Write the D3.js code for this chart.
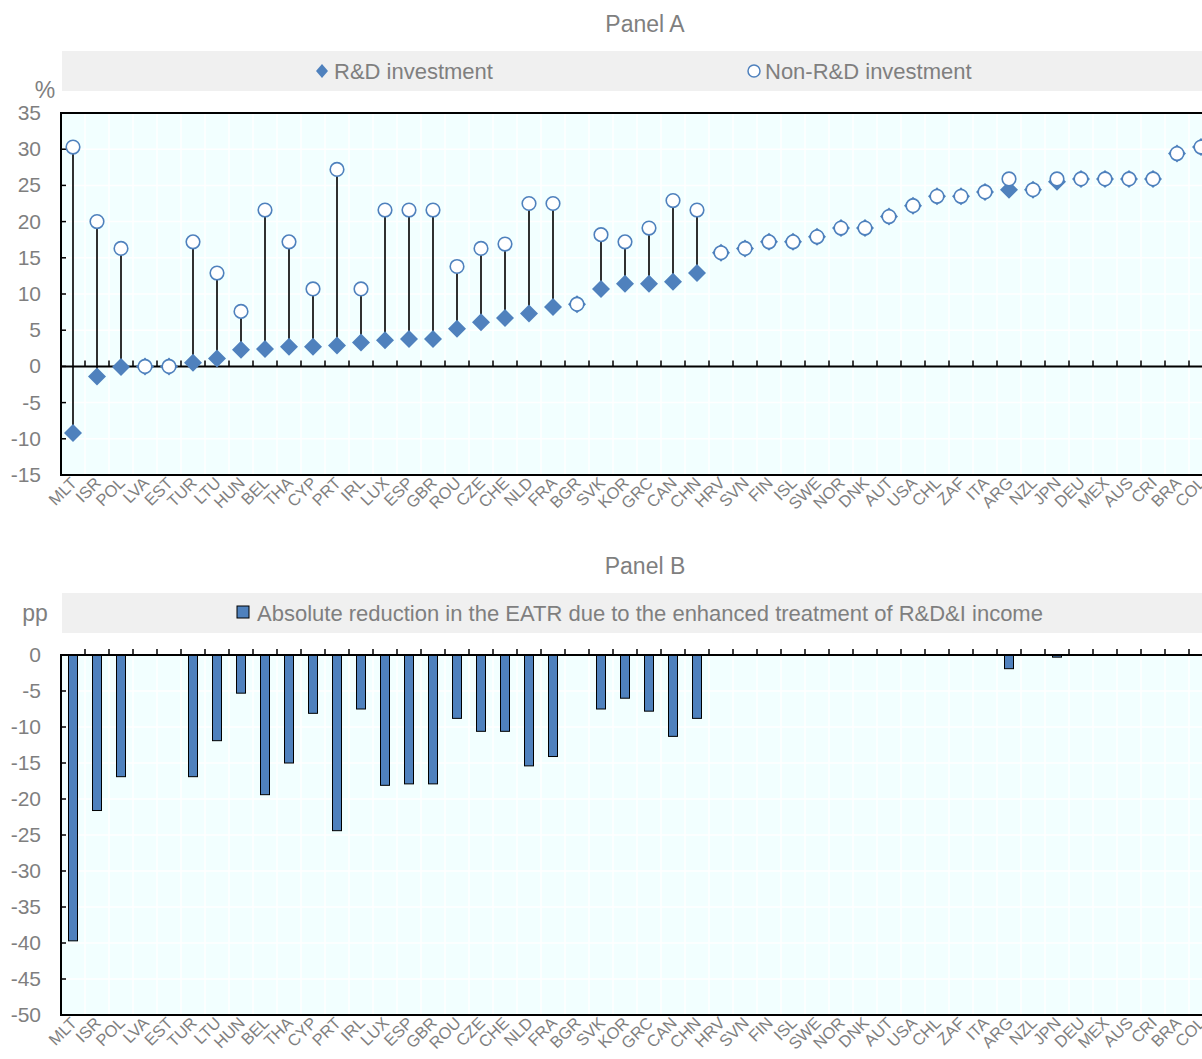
<!DOCTYPE html>
<html>
<head>
<meta charset="utf-8">
<script src="https://cdn.jsdelivr.net/npm/d3@7"></script>
<style>
  body { margin: 0; background: #fff; }
  text { font-family: "Liberation Sans Narrow", "Arial Narrow", "Liberation Sans", sans-serif; fill: #7f7f7f; }
  .xlab { font-family: "Liberation Sans", Arial, sans-serif; }
</style>
</head>
<body>
<script>
// Data
const countries = ["MLT","ISR","POL","LVA","EST","TUR","LTU","HUN","BEL","THA","CYP","PRT","IRL","LUX","ESP","GBR","ROU","CZE","CHE","NLD","FRA","BGR","SVK","KOR","GRC","CAN","CHN","HRV","SVN","FIN","ISL","SWE","NOR","DNK","AUT","USA","CHL","ZAF","ITA","ARG","NZL","JPN","DEU","MEX","AUS","CRI","BRA","COL"];
const rdInvestment = [-9.2,-1.4,-0.1,0,0,0.5,1.1,2.3,2.4,2.7,2.7,2.9,3.3,3.6,3.8,3.8,5.2,6.1,6.7,7.3,8.2,8.6,10.7,11.4,11.4,11.7,12.9,15.7,16.3,17.2,17.2,17.9,19.1,19.1,20.7,22.2,23.5,23.5,24.1,24.4,24.4,25.5,25.9,25.9,25.9,25.9,29.4,30.3];
const nonRdInvestment = [30.3,20.0,16.3,0,0,17.2,12.9,7.6,21.6,17.2,10.7,27.2,10.7,21.6,21.6,21.6,13.8,16.3,16.9,22.5,22.5,8.6,18.2,17.2,19.1,22.9,21.6,15.7,16.3,17.2,17.2,17.9,19.1,19.1,20.7,22.2,23.5,23.5,24.1,25.9,24.4,25.9,25.9,25.9,25.9,25.9,29.4,30.3];
const eatrReduction = [-39.7,-21.6,-16.9,0,0,-16.9,-11.9,-5.3,-19.4,-15.0,-8.1,-24.4,-7.5,-18.1,-17.9,-17.9,-8.8,-10.6,-10.6,-15.4,-14.1,0,-7.5,-6.0,-7.8,-11.3,-8.8,0,0,0,0,0,0,0,0,0,0,0,0,-1.9,0,-0.3,0,0,0,0,0,0];
const yTicksA = [35,30,25,20,15,10,5,0,-5,-10,-15];
const yTicksB = [0,-5,-10,-15,-20,-25,-30,-35,-40,-45,-50];

const rows = countries.map((c, i) => ({ c, rd: rdInvestment[i], non: nonRdInvestment[i], red: eatrReduction[i] }));

const w = 1202;
const h = 1059;
const blue = "#4f81bd";
const left = 61;
const band = 24;

const svg = d3.select("body").append("svg").attr("width", w).attr("height", h);

const xScale = d3.scaleBand()
  .domain(countries)
  .range([left, left + band * countries.length])
  .paddingInner(0).paddingOuter(0);

function panel(opts) {
  const { top, bottom, domain, ticks } = opts;
  const yScale = d3.scaleLinear().domain(domain).range([bottom, top]);
  const g = svg.append("g");

  // background
  g.append("rect")
    .attr("x", left).attr("y", top)
    .attr("width", xScale.range()[1] - left).attr("height", bottom - top)
    .attr("fill", "#f2ffff");

  // white grid
  g.append("g").selectAll("line.h").data(ticks).enter().append("line")
    .attr("x1", left).attr("x2", xScale.range()[1])
    .attr("y1", (d) => yScale(d)).attr("y2", (d) => yScale(d))
    .attr("stroke", "#fff").attr("stroke-width", 1.5);
  g.append("g").selectAll("line.v").data(countries).enter().append("line")
    .attr("x1", (d) => xScale(d) + band).attr("x2", (d) => xScale(d) + band)
    .attr("y1", top).attr("y2", bottom)
    .attr("stroke", "#fff").attr("stroke-width", 1.5);

  // y axis labels + inward ticks
  g.append("g").selectAll("text").data(ticks).enter().append("text")
    .attr("x", 41).attr("y", (d) => yScale(d) + 7)
    .attr("text-anchor", "end")
    .style("font-size", "21px")
    .text((d) => d);
  g.append("g").selectAll("line").data(ticks).enter().append("line")
    .attr("x1", left).attr("x2", left + 5)
    .attr("y1", (d) => yScale(d)).attr("y2", (d) => yScale(d))
    .attr("stroke", "#000").attr("stroke-width", 1.5);

  // x labels
  g.append("g").selectAll("text").data(countries).enter().append("text")
    .attr("class", "xlab")
    .attr("transform", (d) => `translate(${xScale(d) + band / 2 + 5},${bottom + 9}) rotate(-45)`)
    .attr("text-anchor", "end")
    .style("font-size", "16.5px")
    .text((d) => d);

  return { g, yScale };
}

function frame(g, yScale, top, bottom) {
  const x1 = xScale.range()[1];
  g.append("rect")
    .attr("x", left).attr("y", top)
    .attr("width", x1 - left).attr("height", bottom - top)
    .attr("fill", "none").attr("stroke", "#000").attr("stroke-width", 2);
  const y0 = yScale(0);
  g.append("line")
    .attr("x1", left).attr("x2", x1).attr("y1", y0).attr("y2", y0)
    .attr("stroke", "#000").attr("stroke-width", 2);
  g.append("g").selectAll("line").data(countries).enter().append("line")
    .attr("x1", (d) => xScale(d) + band).attr("x2", (d) => xScale(d) + band)
    .attr("y1", y0).attr("y2", y0 - 6)
    .attr("stroke", "#000").attr("stroke-width", 1.5);
}

// ---------- Panel A ----------
svg.append("text").attr("x", 645).attr("y", 32).attr("text-anchor", "middle")
  .style("font-size", "23px").text("Panel A");
svg.append("rect").attr("x", 62).attr("y", 51).attr("width", w - 62).attr("height", 40).attr("fill", "#f0f0f0");
svg.append("text").attr("x", 45).attr("y", 98).attr("text-anchor", "middle").style("font-size", "23px").text("%");
svg.append("path").attr("d", "M322,64L328,71L322,78L316,71Z").attr("fill", blue);
svg.append("text").attr("x", 334).attr("y", 79).style("font-size", "22px").text("R&D investment");
svg.append("circle").attr("cx", 754).attr("cy", 71).attr("r", 6).attr("fill", "#fff").attr("stroke", blue).attr("stroke-width", 1.5);
svg.append("text").attr("x", 765).attr("y", 79).style("font-size", "22px").text("Non-R&D investment");

const A = panel({ top: 113, bottom: 475, domain: [-15, 35], ticks: yTicksA });
const cx = (d) => xScale(d.c) + band / 2;

// stems
A.g.append("g").selectAll("line").data(rows.filter((d) => d.non !== d.rd)).enter().append("line")
  .attr("x1", cx).attr("x2", cx)
  .attr("y1", (d) => A.yScale(d.rd)).attr("y2", (d) => A.yScale(d.non))
  .attr("stroke", "#1a1a1a").attr("stroke-width", 1.8);

frame(A.g, A.yScale, 113, 475);

// diamonds
const dh = 9;
A.g.append("g").selectAll("path").data(rows).enter().append("path")
  .attr("d", (d) => {
    const x = cx(d), y = A.yScale(d.rd);
    return `M${x},${y - dh}L${x + dh},${y}L${x},${y + dh}L${x - dh},${y}Z`;
  })
  .attr("fill", blue);

// circles
A.g.append("g").selectAll("circle").data(rows).enter().append("circle")
  .attr("cx", cx).attr("cy", (d) => A.yScale(d.non))
  .attr("r", 6.8)
  .attr("fill", "#fff").attr("stroke", blue).attr("stroke-width", 1.6);

// ---------- Panel B ----------
svg.append("text").attr("x", 645).attr("y", 574).attr("text-anchor", "middle")
  .style("font-size", "23px").text("Panel B");
svg.append("rect").attr("x", 62).attr("y", 593).attr("width", w - 62).attr("height", 40).attr("fill", "#f0f0f0");
svg.append("text").attr("x", 35).attr("y", 621).attr("text-anchor", "middle").style("font-size", "23px").text("pp");
svg.append("rect").attr("x", 237).attr("y", 606).attr("width", 12).attr("height", 12)
  .attr("fill", blue).attr("stroke", "#000").attr("stroke-width", 1);
svg.append("text").attr("x", 257).attr("y", 621).style("font-size", "22px")
  .text("Absolute reduction in the EATR due to the enhanced treatment of R&D&I income");

const B = panel({ top: 655, bottom: 1015, domain: [-50, 0], ticks: yTicksB });

B.g.append("g").selectAll("rect").data(rows.filter((d) => d.red !== 0)).enter().append("rect")
  .attr("x", (d) => xScale(d.c) + band / 2 - 4.5)
  .attr("width", 9)
  .attr("y", B.yScale(0))
  .attr("height", (d) => B.yScale(d.red) - B.yScale(0))
  .attr("fill", blue).attr("stroke", "#000").attr("stroke-width", 1);

frame(B.g, B.yScale, 655, 1015);
</script>
</body>
</html>
